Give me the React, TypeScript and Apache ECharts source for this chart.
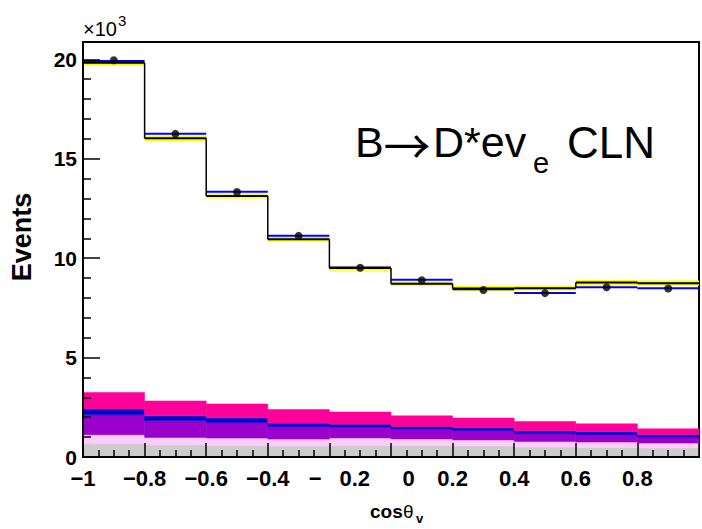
import React, { useEffect, useRef } from "react";
import * as echarts from "echarts";

// Bins of cos(theta_v): lower edges, width 0.2
const binLow = [-1, -0.8, -0.6, -0.4, -0.2, 0, 0.2, 0.4, 0.6, 0.8];
const binWidth = 0.2;

// Values in units of 10^3 events
const dataEvents = [19.95, 16.25, 13.33, 11.12, 9.52, 8.89, 8.40, 8.24, 8.54, 8.47];
const fitBlack = [19.83, 16.03, 13.13, 10.95, 9.50, 8.71, 8.47, 8.49, 8.77, 8.74];
const fitBandHalf = [0.14, 0.14, 0.13, 0.13, 0.13, 0.11, 0.13, 0.12, 0.13, 0.13];
const fitBlue = [19.92, 16.26, 13.34, 11.13, 9.53, 8.91, 8.44, 8.25, 8.54, 8.49];

// Stacked background components (bottom to top)
const bgGray = [0.66, 0.61, 0.58, 0.55, 0.58, 0.58, 0.56, 0.50, 0.48, 0.45];
const bgLightPink = [0.46, 0.37, 0.37, 0.35, 0.38, 0.33, 0.30, 0.28, 0.27, 0.25];
const bgPurple = [1.00, 0.85, 0.78, 0.63, 0.54, 0.49, 0.47, 0.39, 0.37, 0.28];
const bgBlue = [0.30, 0.24, 0.24, 0.17, 0.15, 0.13, 0.14, 0.15, 0.15, 0.14];
const bgMagenta = [0.82, 0.75, 0.70, 0.69, 0.61, 0.54, 0.49, 0.46, 0.40, 0.30];

const xTickText = ["−1", "−0.8", "−0.6", "−0.4", "−0.2", "0", "0.2", "0.4", "0.6", "0.8", ""];

const FONT = '"Liberation Sans", Arial, Helvetica, sans-serif';

export default function App() {
  const ref = useRef<HTMLDivElement>(null);

  useEffect(() => {
    if (!ref.current) return;
    const chart = echarts.init(ref.current, undefined, { renderer: "svg" });

    const layers = [
      { values: bgGray, color: "#cccccc" },
      { values: bgLightPink, color: "#ffccff" },
      { values: bgPurple, color: "#9900cc" },
      { values: bgBlue, color: "#0000cc" },
      { values: bgMagenta, color: "#ff0099" },
    ];
    const base = binLow.map(() => 0);
    const layerSeries = layers.map((L, li) => {
      const rows = binLow.map((lo, i) => {
        const b = base[i];
        const t = b + L.values[i];
        base[i] = t;
        return [lo, lo + binWidth, b, t];
      });
      return {
        type: "custom",
        z: 1 + li * 0.01,
        silent: true,
        encode: { x: [0, 1], y: [2, 3] },
        data: rows,
        renderItem: (params: any, api: any) => {
          const p0 = api.coord([api.value(0), api.value(3)]);
          const p1 = api.coord([api.value(1), api.value(2)]);
          return {
            type: "rect",
            shape: { x: p0[0], y: p0[1], width: p1[0] - p0[0], height: p1[1] - p0[1] },
            style: { fill: L.color, stroke: L.color, lineWidth: 0.5 },
          };
        },
      };
    });

    const yellowRows = binLow.map((lo, i) => [lo, lo + binWidth, fitBlack[i] - fitBandHalf[i], fitBlack[i] + fitBandHalf[i]]);
    const blackRows = binLow.map((lo, i) => [lo, lo + binWidth, fitBlack[i], i + 1 < fitBlack.length ? fitBlack[i + 1] : fitBlack[i]]);
    const blueRows = binLow.map((lo, i) => [lo, lo + binWidth, fitBlue[i]]);
    const dots = binLow.map((lo, i) => [lo + binWidth / 2, dataEvents[i]]);

    const xLabelStyle = { fontSize: 22, fontWeight: "bold", fontFamily: FONT, color: "#000" };

    chart.setOption({
      animation: false,
      backgroundColor: "#ffffff",
      grid: {
        left: 83,
        top: 42,
        right: -5,
        bottom: 72,
        show: true,
        borderColor: "#000",
        borderWidth: 2,
        backgroundColor: "transparent",
      },
      xAxis: {
        type: "value",
        min: -1,
        max: 1,
        interval: 0.2,
        z: 10,
        axisLine: { show: true, onZero: false, lineStyle: { color: "#000", width: 2 } },
        axisTick: { show: true, inside: true, length: 14, lineStyle: { color: "#000", width: 1.5 } },
        minorTick: { show: true, splitNumber: 4, length: 7, lineStyle: { color: "#000", width: 1.5 } },
        splitLine: { show: false },
        axisLabel: {
          margin: 10,
          hideOverlap: false,
          showMinLabel: true,
          showMaxLabel: true,
          formatter: (v: number) => {
            const i = Math.round((v + 1) / 0.2);
            if (i === 4) return "{sp| }{n|−}{gap| }{n|0.2}";
            if (i === 5) return "{sp0| }{n|0}";
            const t = xTickText[i];
            return t ? "{n|" + t + "}" : "";
          },
          rich: {
            n: xLabelStyle,
            sp: { width: 20 },
            gap: { width: 18 },
            sp0: { width: 35 },
          },
        },
      },
      yAxis: {
        type: "value",
        min: 0,
        max: 20.87,
        interval: 5,
        z: 10,
        axisLine: { show: true, onZero: false, lineStyle: { color: "#000", width: 2 } },
        axisTick: { show: true, inside: true, length: 17, lineStyle: { color: "#000", width: 1.5 } },
        minorTick: { show: true, splitNumber: 5, length: 8, lineStyle: { color: "#000", width: 1.5 } },
        splitLine: { show: false },
        axisLabel: {
          margin: 6,
          fontSize: 21,
          fontWeight: "bold",
          fontFamily: FONT,
          color: "#000",
          showMaxLabel: false,
        },
      },
      series: [
        ...layerSeries,
        {
          type: "custom",
          z: 2,
          silent: true,
          encode: { x: [0, 1], y: [2, 3] },
          data: yellowRows,
          renderItem: (params: any, api: any) => {
            const p0 = api.coord([api.value(0), api.value(3)]);
            const p1 = api.coord([api.value(1), api.value(2)]);
            return {
              type: "rect",
              shape: { x: p0[0], y: p0[1], width: p1[0] - p0[0], height: p1[1] - p0[1] },
              style: { fill: "#ffff00" },
            };
          },
        },
        {
          type: "custom",
          z: 3,
          silent: true,
          encode: { x: [0, 1], y: [2] },
          data: blueRows,
          renderItem: (params: any, api: any) => {
            const p0 = api.coord([api.value(0), api.value(2)]);
            const p1 = api.coord([api.value(1), api.value(2)]);
            return {
              type: "line",
              shape: { x1: p0[0], y1: p0[1], x2: p1[0], y2: p1[1] },
              style: { stroke: "#0000ff", lineWidth: 2 },
            };
          },
        },
        {
          type: "custom",
          z: 4,
          silent: true,
          encode: { x: [0, 1], y: [2, 3] },
          data: blackRows,
          renderItem: (params: any, api: any) => {
            const p0 = api.coord([api.value(0), api.value(2)]);
            const p1 = api.coord([api.value(1), api.value(2)]);
            const p2 = api.coord([api.value(1), api.value(3)]);
            return {
              type: "group",
              children: [
                {
                  type: "line",
                  shape: { x1: p0[0], y1: p0[1], x2: p1[0], y2: p1[1] },
                  style: { stroke: "#000", lineWidth: 2 },
                },
                {
                  type: "line",
                  shape: { x1: p1[0], y1: p1[1], x2: p2[0], y2: p2[1] },
                  style: { stroke: "#000", lineWidth: 1.5 },
                },
              ],
            };
          },
        },
        {
          type: "scatter",
          z: 5,
          silent: true,
          symbol: "circle",
          symbolSize: 8,
          itemStyle: { color: "#000" },
          data: dots,
        },
      ],
      graphic: [
        {
          type: "text",
          x: 83,
          y: 29,
          style: { text: "×10", fontSize: 20, fontFamily: FONT, fill: "#000", align: "left", verticalAlign: "middle" },
        },
        {
          type: "text",
          x: 118,
          y: 20,
          style: { text: "3", fontSize: 15, fontFamily: FONT, fill: "#000", align: "left", verticalAlign: "middle" },
        },
        {
          type: "text",
          x: 22,
          y: 237,
          rotation: Math.PI / 2,
          style: { text: "Events", fontSize: 27, fontWeight: "bold", fontFamily: FONT, fill: "#000", align: "center", verticalAlign: "middle" },
        },
        {
          type: "text",
          x: 355,
          y: 142,
          style: { text: "B", fontSize: 43, fontFamily: FONT, fill: "#000", align: "left", verticalAlign: "middle" },
        },
        {
          type: "text",
          x: 407,
          y: 143,
          style: { text: "→", fontSize: 47, fontFamily: '"Noto Sans CJK SC"', fill: "#000", align: "center", verticalAlign: "middle" },
        },
        {
          type: "text",
          x: 433,
          y: 142,
          style: { text: "D*ev", fontSize: 43, fontFamily: FONT, fill: "#000", align: "left", verticalAlign: "middle" },
        },
        {
          type: "text",
          x: 533,
          y: 163,
          style: { text: "e", fontSize: 29, fontFamily: FONT, fill: "#000", align: "left", verticalAlign: "middle" },
        },
        {
          type: "text",
          x: 567,
          y: 142,
          style: { text: "CLN", fontSize: 44, fontFamily: FONT, fill: "#000", align: "left", verticalAlign: "middle" },
        },
        {
          type: "text",
          x: 370,
          y: 511,
          style: { text: "cos", fontSize: 19, fontWeight: "bold", fontFamily: FONT, fill: "#000", align: "left", verticalAlign: "middle" },
        },
        {
          type: "text",
          x: 403,
          y: 511,
          style: { text: "θ", fontSize: 19, fontFamily: FONT, fill: "#000", align: "left", verticalAlign: "middle" },
        },
        {
          type: "text",
          x: 416,
          y: 518,
          style: { text: "v", fontSize: 13, fontWeight: "bold", fontFamily: FONT, fill: "#000", align: "left", verticalAlign: "middle" },
        },
      ],
    });

    return () => chart.dispose();
  }, []);

  return (
    <div
      ref={ref}
      style={{ position: "fixed", left: 0, top: 0, width: 702, height: 529, background: "#fff" }}
    />
  );
}
